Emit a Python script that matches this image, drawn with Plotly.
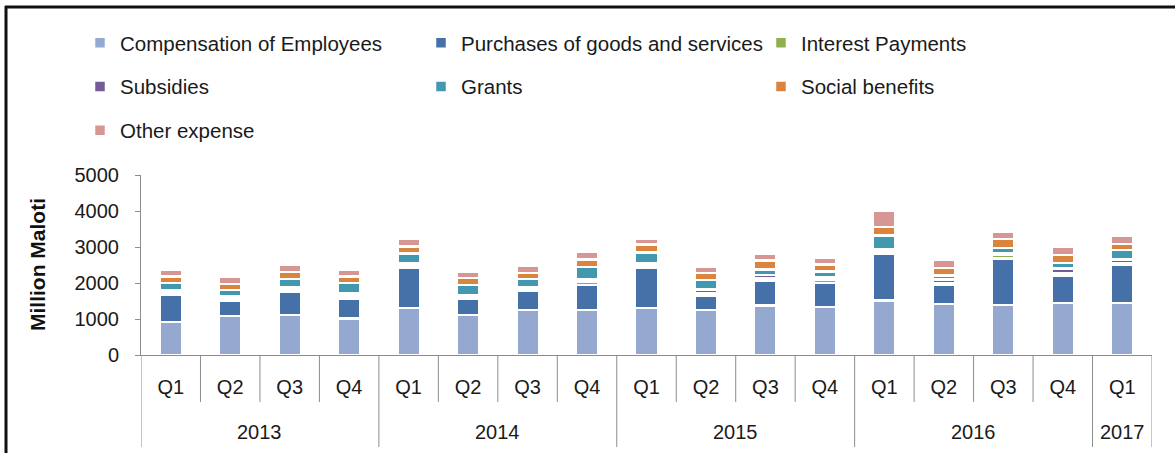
import plotly.graph_objects as go

# quarters and years on the x axis
quarters = ["Q1", "Q2", "Q3", "Q4", "Q1", "Q2", "Q3", "Q4",
            "Q1", "Q2", "Q3", "Q4", "Q1", "Q2", "Q3", "Q4", "Q1"]
years = ["2013", "2014", "2015", "2016", "2017"]
year_sizes = [4, 4, 4, 4, 1]

# expense series, million maloti
compensation = [920, 1080, 1110, 1010, 1310, 1105, 1255, 1255, 1310, 1255, 1375, 1340, 1515, 1420, 1385, 1450, 1450]
purchases = [740, 415, 635, 565, 1100, 465, 520, 685, 1100, 390, 695, 665, 1285, 520, 1295, 760, 1055]
interest = [70, 70, 70, 70, 70, 50, 50, 95, 70, 60, 75, 75, 75, 60, 100, 50, 45]
subsidies = [70, 70, 70, 70, 70, 50, 50, 60, 70, 116, 75, 75, 75, 97, 48, 145, 103]
grants = [205, 175, 225, 290, 270, 280, 230, 350, 295, 260, 160, 160, 370, 110, 150, 150, 260]
social = [175, 165, 200, 175, 200, 195, 175, 205, 230, 200, 240, 205, 240, 205, 240, 220, 175]
other = [175, 185, 195, 195, 220, 155, 195, 220, 165, 160, 195, 195, 455, 230, 205, 240, 230]

# (name, values, colour, legend column)
series = [
    ("Compensation of Employees", compensation, "#95A9D0", "legend"),
    ("Purchases of goods and services", purchases, "#4571A8", "legend2"),
    ("Interest Payments", interest, "#8FB04E", "legend3"),
    ("Subsidies", subsidies, "#725B96", "legend"),
    ("Grants", grants, "#4198AF", "legend2"),
    ("Social benefits", social, "#DB843D", "legend3"),
    ("Other expense", other, "#D69694", "legend"),
]

x = list(range(len(quarters)))

fig = go.Figure()
for name, vals, col, leg in series:
    fig.add_trace(go.Bar(
        x=x, y=vals, name=name, legend=leg, legendgroup=name,
        marker=dict(color=col, line=dict(color="white", width=2.5)),
    ))

# plot area geometry in pixels (for paper coords of extra lines)
top, bottom, left, right = 175, 355, 141, 1152
ph = bottom - top
pw = right - left


def py(p):
    return (bottom - p) / ph


def px(p):
    return (p - left) / pw


axis_grey = "#8C8C8C"
shapes = []
# year boundaries run to the bottom, quarter boundaries stop under Q labels
bounds = [-0.5]
acc = -0.5
for n in year_sizes:
    acc += n
    bounds.append(acc)
for b in bounds:
    shapes.append(dict(type="line", xref="x", yref="paper", x0=b, x1=b,
                       y0=0, y1=py(447), line=dict(color=axis_grey, width=1)))
for i in range(len(quarters) - 1):
    b = i + 0.5
    if b in bounds:
        continue
    shapes.append(dict(type="line", xref="x", yref="paper", x0=b, x1=b,
                       y0=0, y1=py(402), line=dict(color=axis_grey, width=1)))

# outer frame (top and left edges)
shapes.append(dict(type="line", xref="paper", yref="paper", x0=px(5), x1=px(1180),
                   y0=py(7), y1=py(7), line=dict(color="#111111", width=3)))
shapes.append(dict(type="line", xref="paper", yref="paper", x0=px(6), x1=px(6),
                   y0=py(6), y1=py(460), line=dict(color="#111111", width=3)))

txt = dict(family="Liberation Sans, Arial", size=20, color="#1a1a1a")

annotations = []
start = -0.5
for yr, n in zip(years, year_sizes):
    annotations.append(dict(x=start + n / 2, y=py(432), xref="x", yref="paper",
                            text=yr, showarrow=False, xanchor="center", yanchor="middle",
                            font=txt))
    start += n

annotations.append(dict(x=px(37), y=0.5, xref="paper", yref="paper",
                        text="<b>Million Maloti</b>", textangle=-90, showarrow=False,
                        xanchor="center", yanchor="middle",
                        font=dict(family="Liberation Sans, Arial", size=21, color="#111111")))


def legend_box(xpix):
    return dict(
        orientation="v", x=px(xpix), xanchor="left", y=py(23), yanchor="top",
        traceorder="grouped", tracegroupgap=14,
        font=dict(family="Liberation Sans, Arial", size=20.5, color="#1a1a1a"),
        bgcolor="rgba(0,0,0,0)",
    )


fig.update_layout(
    barmode="stack",
    bargap=0.62,
    width=1175, height=453,
    margin=dict(l=left, r=1175 - right, t=top, b=453 - bottom, autoexpand=False),
    plot_bgcolor="white", paper_bgcolor="white",
    shapes=shapes,
    annotations=annotations,
    legend=legend_box(80),
    legend2=legend_box(421),
    legend3=legend_box(761),
    xaxis=dict(
        tickmode="array", tickvals=x, ticktext=quarters,
        range=[-0.5, len(quarters) - 0.5],
        showline=True, linecolor=axis_grey, linewidth=1,
        ticks="", ticklabelstandoff=14, showgrid=False, zeroline=False,
        tickfont=txt,
    ),
    yaxis=dict(
        range=[0, 5000], tickvals=[0, 1000, 2000, 3000, 4000, 5000],
        showline=True, linecolor=axis_grey, linewidth=1,
        ticks="outside", ticklen=5, tickcolor=axis_grey,
        ticklabelstandoff=12, showgrid=False, zeroline=False,
        tickfont=txt,
    ),
)

# page body margin would shift the figure by 8px
fig.write_html("out.html", config={"displayModeBar": False},
               post_script="document.body.style.margin='0';")
